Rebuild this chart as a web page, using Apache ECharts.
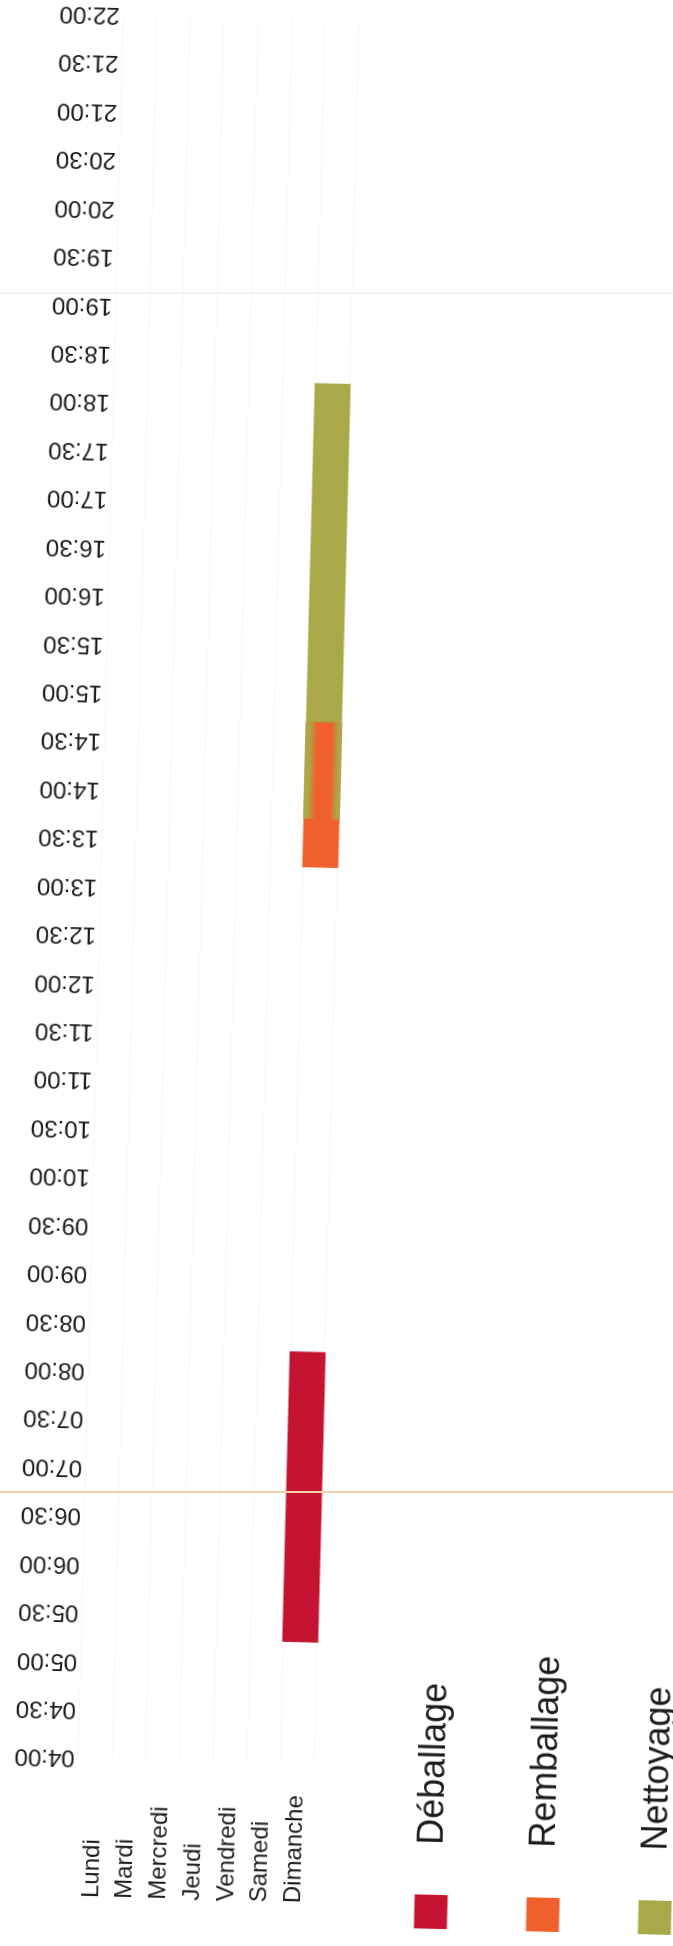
<!DOCTYPE html>
<html><head><meta charset="utf-8">
<script src="https://cdn.jsdelivr.net/npm/echarts@6/dist/echarts.min.js"></script>
<style>
html,body{margin:0;padding:0;width:673px;height:1946px;overflow:hidden;background:#fff;}
#frame{position:absolute;left:0;top:0;width:1946px;height:720px;transform-origin:0 0;
transform:translate(336.5px,973px) rotate(1.48deg) translate(-336.5px,-973px) translate(0px,1946px) rotate(-90deg);}
#scan{position:absolute;left:0;top:0;width:673px;height:1946px;pointer-events:none;}
</style></head><body>
<div id="frame"></div><div id="scan"></div>
<script>
// ---- data ----
const days = ['Lundi', 'Mardi', 'Mercredi', 'Jeudi', 'Vendredi', 'Samedi', 'Dimanche'];
const timeMin = 4, timeMax = 22, timeStep = 0.5;
// [day index, start hour, end hour]
const deballage = [[6, 5.25, 8.25]];
const remballage = [[6, 13.25, 14.75]];
const nettoyage = [[6, 13.75, 18.25]];
const seriesNames = ['Déballage', 'Remballage', 'Nettoyage'];

const colRed = '#c41432', colOrange = '#f0602c', colGreen = '#a9a94a';
const font = 'Liberation Sans, Arial, sans-serif';
const txt = '#1c1c1c';

function pad(n) { return (n < 10 ? '0' : '') + n; }
function fmtTime(v) { const h = Math.floor(v + 1e-9); const m = Math.round((v - h) * 60); return pad(h) + ':' + pad(m); }

const BAR = 36;
function makeRender(color, overlapWith, overlapColor) {
  return function (params, api) {
    const day = api.value(0), s = api.value(1), e = api.value(2);
    const p0 = api.coord([s, day]), p1 = api.coord([e, day]);
    const children = [{ type: 'rect', shape: { x: p0[0], y: p0[1] - BAR / 2, width: p1[0] - p0[0], height: BAR }, style: { fill: color } }];
    if (overlapWith) {
      overlapWith.forEach(function (d) {
        if (d[0] === day) {
          const a = Math.max(s, d[1]), b = Math.min(e, d[2]);
          if (b > a) {
            const q0 = api.coord([a, day]), q1 = api.coord([b, day]);
            children.push({ type: 'rect', shape: { x: q0[0], y: q0[1] - BAR / 2, width: q1[0] - q0[0], height: BAR },
              style: { fill: new echarts.graphic.LinearGradient(0, 0, 0, 1, [
                { offset: 0, color: overlapColor }, { offset: 0.1, color: overlapColor },
                { offset: 0.32, color: color }, { offset: 0.72, color: color },
                { offset: 0.92, color: overlapColor }, { offset: 1, color: overlapColor }]) } });
          }
        }
      });
    }
    return { type: 'group', children: children };
  };
}

const chart = echarts.init(document.getElementById('frame'), null, { renderer: 'canvas' });
chart.setOption({
  backgroundColor: '#ffffff',
  animation: false,
  grid: { left: 182, right: 20.6, top: 98, height: 236.5 },
  legend: {
    orient: 'vertical', left: 15, top: 432,
    icon: 'rect', itemWidth: 34, itemHeight: 33, itemGap: 76,
    data: seriesNames,
    textStyle: { fontSize: 36, fontFamily: font, color: txt, lineHeight: 36, padding: [0, 0, 0, 45] }
  },
  xAxis: {
    type: 'value', position: 'top', min: timeMin, max: timeMax, interval: timeStep,
    axisLine: { show: false }, axisTick: { show: false }, splitLine: { show: false },
    axisLabel: { rotate: -90, margin: 3, fontSize: 24, fontFamily: font, color: txt, formatter: fmtTime, showMinLabel: true, showMaxLabel: true }
  },
  yAxis: {
    type: 'category', data: days, inverse: true,
    axisLine: { show: false }, axisTick: { show: false },
    splitLine: { show: true, lineStyle: { color: '#f7f7f7', width: 1 } },
    axisLabel: { align: 'left', margin: 140, fontSize: 24, fontFamily: font, color: txt }
  },
  series: [
    { name: seriesNames[0], type: 'custom', renderItem: makeRender(colRed), itemStyle: { color: colRed },
      encode: { x: [1, 2], y: 0 }, data: deballage, z: 2 },
    { name: seriesNames[2], type: 'custom', renderItem: makeRender(colGreen), itemStyle: { color: colGreen },
      encode: { x: [1, 2], y: 0 }, data: nettoyage, z: 2 },
    { name: seriesNames[1], type: 'custom', renderItem: makeRender(colOrange, nettoyage, colGreen), itemStyle: { color: colOrange },
      encode: { x: [1, 2], y: 0 }, data: remballage, z: 3 }
  ]
});

// faint scanner lines (not rotated with the page content)
const scan = echarts.init(document.getElementById('scan'), null, { renderer: 'canvas' });
scan.setOption({
  animation: false,
  graphic: [
    { type: 'line', shape: { x1: 0, y1: 293, x2: 673, y2: 293 }, style: { stroke: '#f6ece2', lineWidth: 1.5 } },
    { type: 'line', shape: { x1: 0, y1: 1492, x2: 673, y2: 1492 }, style: { stroke: '#f7cfa6', lineWidth: 2 } }
  ]
});
</script>
</body></html>
